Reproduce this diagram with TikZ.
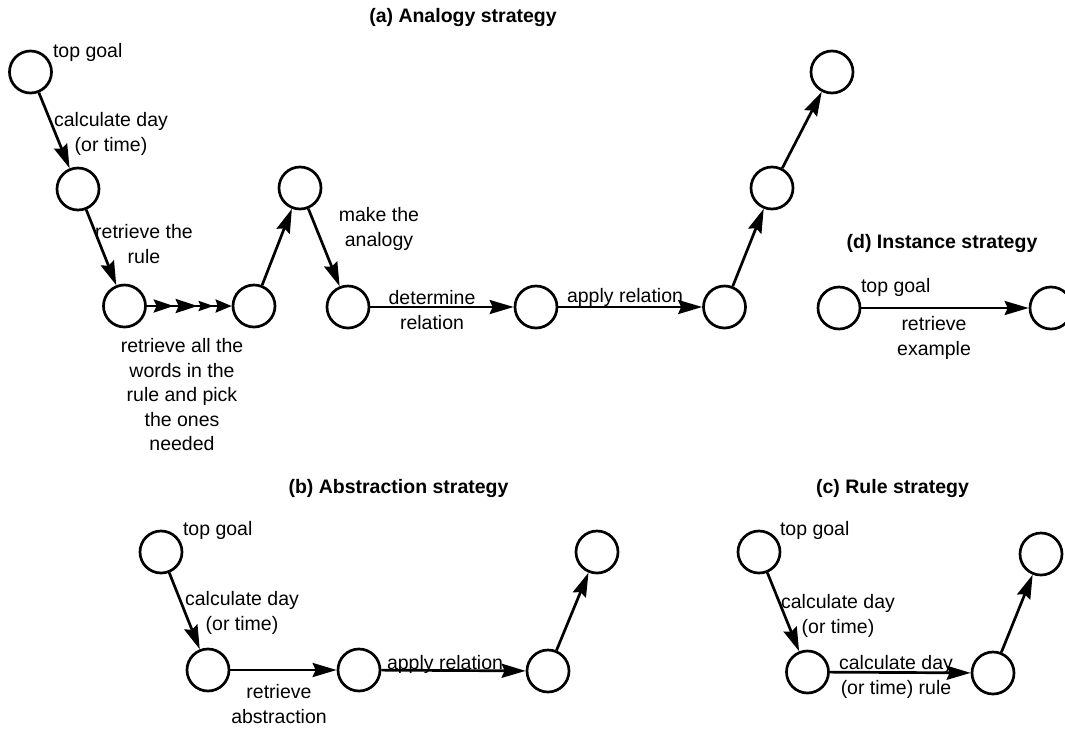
\documentclass[tikz,border=0pt]{standalone}
\usepackage{fontspec}
\setmainfont{Liberation Sans}
\usetikzlibrary{
arrows.meta,
graphs,
}
\tikzset{
outer sep=auto,
every node/.style={align=center, font=\fontsize{19.5}{24.5}\selectfont},
goal/.style={circle, draw, line width=2.7pt, minimum size=42pt, inner sep=0pt},
remark/.style={inner sep=0pt},
heading/.style={inner sep=0pt, font=\fontsize{19.5}{24.5}\selectfont\bfseries},
>={Stealth[length=24pt,width=14pt,inset=3pt]},
}

\begin{document}
\begin{tikzpicture}[x=1pt, y=-1pt]
\clip (0,0) rectangle (1065,729);
% (a) analogy
\node (ha) [heading] at (463,17) {(a) Analogy strategy};
\node (a1) [goal] at (30.5,72) {};
\node (a2) [goal] at (78,189) {};
\node (a3) [goal] at (124.5,306) {};
\node (a4) [goal] at (254,306) {};
\node (a5) [goal] at (300,188) {};
\node (a6) [goal] at (348,307) {};
\node (a7) [goal] at (536,307) {};
\node (a8) [goal] at (724.5,307) {};
\node (a9) [goal] at (772,188) {};
\node (a10) [goal] at (832,72) {};
\node (ta) [remark, anchor=base west] at (53,57) {top goal};
\node (calca) [remark] at (111,134) {calculate day\\(or time)};
\node (rule) [remark] at (144,244) {retrieve the\\rule};
\node (words) [remark] at (182,395) {retrieve all the\\words in the\\rule and pick\\the ones\\needed};
\node (analogy) [remark] at (379,229) {make the\\analogy};
\node (determ) [remark] at (432,310) {determine\\relation};
\node (applya) [remark] at (625,297) {apply relation};
% (d) instance
\node (hd) [heading] at (942,243) {(d) Instance strategy};
\node (d1) [goal] at (839,308) {};
\node (d2) [goal] at (1051,308) {};
\node (td) [remark, anchor=base west] at (861,292) {top goal};
\node (example) [remark] at (934,338) {retrieve\\example};
% (b) abstraction
\node (hb) [heading] at (398.5,488) {(b) Abstraction strategy};
\node (b1) [goal] at (161,552) {};
\node (b2) [goal] at (208,670) {};
\node (b3) [goal] at (359,670) {};
\node (b4) [goal] at (548,671) {};
\node (b5) [goal] at (597,552) {};
\node (tb) [remark, anchor=base west] at (183,535) {top goal};
\node (calcb) [remark] at (242,613) {calculate day\\(or time)};
\node (abstr) [remark] at (279,704) {retrieve\\abstraction};
\node (applyb) [remark] at (445,664) {apply relation};
% (c) rule
\node (hc) [heading] at (892.5,488) {(c) Rule strategy};
\node (c1) [goal] at (759,552) {};
\node (c2) [goal] at (807.5,672) {};
\node (c3) [goal] at (993,673) {};
\node (c4) [goal] at (1041,554) {};
\node (tc) [remark, anchor=base west] at (780,535) {top goal};
\node (calcc) [remark] at (838,616) {calculate day\\(or time)};
\node (calcr) [remark] at (896,677) {calculate day\\(or time) rule};
\graph [use existing nodes, edges={line width=2.7pt}] {
    a1 -> a2 -> a3 ->[-{Stealth[length=20pt,width=13pt,inset=3pt,sep=2pt]Stealth[length=22pt,width=14pt,inset=3pt,sep=1pt]Stealth[length=15pt,width=10pt,inset=2pt,sep=2pt]Stealth[length=16pt,width=13pt,inset=2pt]}] a4 -> a5 -> a6 -> a7 -> a8 -> a9 -> a10;
    d1 -> d2;
    b1 -> b2 -> b3 -> b4 -> b5;
    c1 -> c2 -> c3 -> c4;
};
\end{tikzpicture}
\end{document}
